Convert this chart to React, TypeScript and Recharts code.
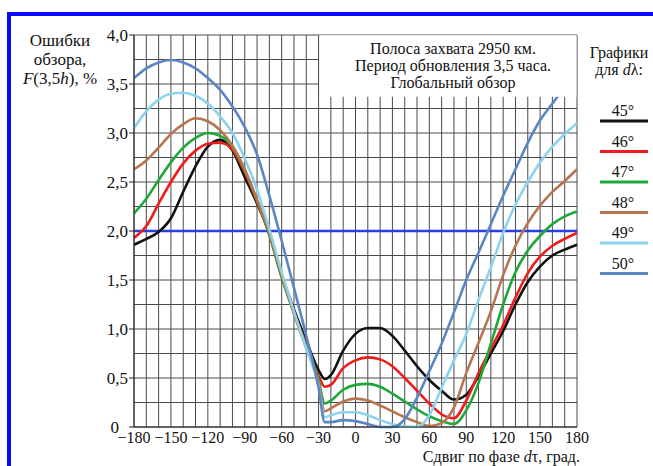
import { LineChart, Line, XAxis, YAxis, ReferenceLine, ReferenceArea } from 'recharts';

// phase shift dτ, degrees
const phaseShift = [
  -180, -170, -160, -150, -140, -130, -120, -110, -100, -90, -80, -70, -60, -50, -40, -30, -25, -20,
  -10, 0, 10, 20, 30, 40, 50, 60, 70, 80, 90, 100, 110, 120, 130, 140, 150, 160, 170, 180,
];

// F(3.5h), % for each dλ
const err45 = [
  1.86, 1.92, 1.99, 2.13, 2.4, 2.66, 2.86, 2.93, 2.82, 2.55, 2.28, 1.98, 1.55, 1.2, 0.88, 0.58, 0.49, 0.53,
  0.78, 0.95, 1.01, 1.01, 0.93, 0.78, 0.62, 0.48, 0.37, 0.28, 0.33, 0.52, 0.75, 0.98, 1.25, 1.48, 1.64, 1.75, 1.81, 1.86,
];
const err46 = [
  1.93, 2.05, 2.28, 2.5, 2.69, 2.82, 2.89, 2.9, 2.83, 2.6, 2.3, 1.96, 1.53, 1.17, 0.84, 0.52, 0.41, 0.43,
  0.6, 0.68, 0.71, 0.69, 0.62, 0.5, 0.37, 0.24, 0.13, 0.09, 0.27, 0.55, 0.8, 1.04, 1.32, 1.57, 1.74, 1.85, 1.92, 1.98,
];
const err47 = [
  2.18, 2.33, 2.52, 2.7, 2.85, 2.95, 3.0, 2.97, 2.86, 2.62, 2.31, 1.96, 1.53, 1.16, 0.82, 0.48, 0.24, 0.27,
  0.38, 0.43, 0.44, 0.41, 0.34, 0.26, 0.18, 0.11, 0.06, 0.03, 0.17, 0.45, 0.85, 1.25, 1.58, 1.8, 1.95, 2.07, 2.15, 2.2,
];
const err48 = [
  2.63, 2.72, 2.85, 2.99, 3.09, 3.15, 3.12, 3.03, 2.87, 2.63, 2.32, 1.98, 1.55, 1.16, 0.8, 0.45, 0.16, 0.19,
  0.26, 0.29, 0.27, 0.22, 0.16, 0.1, 0.05, 0.01, 0.04, 0.2, 0.55, 0.86, 1.18, 1.55, 1.85, 2.08, 2.26, 2.4, 2.51, 2.63,
];
const err49 = [
  3.05, 3.22, 3.34, 3.4, 3.41, 3.38, 3.3, 3.17, 3.0, 2.74, 2.42, 2.02, 1.58, 1.18, 0.8, 0.42, 0.1, 0.12,
  0.15, 0.15, 0.12, 0.07, 0.03, 0.005, 0, 0.12, 0.4, 0.68, 0.95, 1.3, 1.63, 1.98, 2.27, 2.5, 2.7, 2.86, 2.99, 3.1,
];
const err50 = [
  3.56, 3.66, 3.72, 3.745, 3.72, 3.66, 3.56, 3.44, 3.27, 3.06, 2.78, 2.36, 1.9, 1.42, 0.93, 0.4, 0.05, 0.05,
  0.07, 0.06, 0.03, 0, 0, 0.08, 0.3, 0.57, 0.85, 1.17, 1.5, 1.78, 2.07, 2.36, 2.63, 2.9, 3.13, 3.3, 3.47, 3.6,
];

const xTicks = [-180, -150, -120, -90, -60, -30, 0, 30, 60, 90, 120, 150, 180];
const yTicks = [0, 0.5, 1, 1.5, 2, 2.5, 3, 3.5, 4];
const gridX = [
  -180, -170, -160, -150, -140, -130, -120, -110, -100, -90, -80, -70, -60, -50, -40, -30, -20, -10, 0,
  10, 20, 30, 40, 50, 60, 70, 80, 90, 100, 110, 120, 130, 140, 150, 160, 170, 180,
];
const gridY = [0, 0.25, 0.5, 0.75, 1, 1.25, 1.5, 1.75, 2, 2.25, 2.5, 2.75, 3, 3.25, 3.5, 3.75, 4];

const series = [
  { key: 'd45', label: '45°', color: '#111111', values: err45 },
  { key: 'd46', label: '46°', color: '#ee1c1c', values: err46 },
  { key: 'd47', label: '47°', color: '#1fa83a', values: err47 },
  { key: 'd48', label: '48°', color: '#b5764f', values: err48 },
  { key: 'd49', label: '49°', color: '#8dd3ee', values: err49 },
  { key: 'd50', label: '50°', color: '#5a86c4', values: err50 },
];

const data = phaseShift.map((x, i) => {
  const row: Record<string, number> = { x };
  series.forEach((s) => {
    row[s.key] = s.values[i];
  });
  return row;
});

const serif = "'Liberation Serif', 'Times New Roman', 'DejaVu Serif', serif";
const gridColor = '#4a4a4a';
const fmtX = (v: number) => (v < 0 ? `\u2212${Math.abs(v)}` : `${v}`);
const fmtY = (v: number) => (v === 0 ? '0' : v.toFixed(1).replace('.', ','));

// y tick: the zero label sits a little further left, clear of the −180 label
const YTick = (props: any) => {
  const { x, y, payload } = props;
  return (
    <text
      x={x}
      y={y}
      dx={payload.value === 0 ? -9 : 0}
      dy="0.355em"
      textAnchor="end"
      fill="#111"
      fontSize={17}
      style={{ fontFamily: serif }}
    >
      {fmtY(payload.value)}
    </text>
  );
};

export default function App() {
  return (
    <div
      style={{
        position: 'absolute',
        left: 0,
        top: 0,
        width: 653,
        height: 466,
        background: '#fff',
        fontFamily: serif,
      }}
    >
      <LineChart
        width={653}
        height={466}
        data={data}
        margin={{ top: 35, right: 76, bottom: 0, left: 0 }}
        style={{ fontFamily: serif }}
      >
        <XAxis
          dataKey="x"
          type="number"
          domain={[-180, 180]}
          ticks={xTicks}
          tickFormatter={fmtX}
          height={39}
          tickLine={false}
          tickSize={5}
          tickMargin={0}
          axisLine={{ stroke: '#222' }}
          tick={{ fill: '#111', fontSize: 16, style: { fontFamily: serif } }}
          interval={0}
        />
        <YAxis
          type="number"
          domain={[0, 4]}
          ticks={yTicks}
          width={134}
          tickSize={5}
          tickMargin={1}
          tickLine={{ stroke: '#222' }}
          axisLine={{ stroke: '#222' }}
          tick={<YTick />}
          interval={0}
        />
        {gridX.map((v) => (
          <ReferenceLine key={`gx${v}`} x={v} stroke={gridColor} strokeWidth={1} zIndex={-10} />
        ))}
        {gridY.map((v) => (
          <ReferenceLine key={`gy${v}`} y={v} stroke={gridColor} strokeWidth={1} zIndex={-10} />
        ))}
        <ReferenceLine y={2} stroke="#2a3fe0" strokeWidth={2.5} zIndex={-5} />
        {series.map((s) => (
          <Line
            key={s.key}
            dataKey={s.key}
            type="monotone"
            stroke={s.color}
            strokeWidth={2.6}
            dot={false}
            isAnimationActive={false}
          />
        ))}
        <ReferenceArea x1={-30} x2={180} y1={3.37} y2={4} fill="#ffffff" fillOpacity={1} stroke="none" zIndex={1000} />
        <ReferenceLine
          segment={[{ x: -30, y: 3.37 }, { x: -30, y: 4 }]}
          stroke={gridColor}
          strokeWidth={1}
          zIndex={1001}
        />
        <ReferenceLine
          segment={[{ x: 180, y: 3.37 }, { x: 180, y: 4 }]}
          stroke="#9a9a9a"
          strokeWidth={1}
          zIndex={1001}
        />
        <ReferenceLine
          segment={[{ x: -30, y: 4 }, { x: 180, y: 4 }]}
          stroke="#b0b0b0"
          strokeWidth={1}
          strokeDasharray="2 2"
          zIndex={1001}
        />
      </LineChart>

      <svg
        width={653}
        height={466}
        style={{ position: 'absolute', left: 0, top: 0, pointerEvents: 'none', fontFamily: serif }}
        fill="#111"
      >
        {/* page frame */}
        <rect x={7} y={12} width={4} height={454} fill="#0a0aff" />
        <rect x={7} y={12} width={646} height={4} fill="#0a0aff" />

        {/* y axis title */}
        <text x={60} y={46} fontSize={17} textAnchor="middle">Ошибки</text>
        <text x={60} y={65} fontSize={17} textAnchor="middle">обзора,</text>
        <text x={60} y={84} fontSize={17} textAnchor="middle">
          <tspan fontStyle="italic">F</tspan>(3,5<tspan fontStyle="italic">h</tspan>), %
        </text>

        {/* caption box */}
        <text x={453} y={54} fontSize={16} textAnchor="middle">Полоса захвата 2950 км.</text>
        <text x={453} y={71} fontSize={16} textAnchor="middle">Период обновления 3,5 часа.</text>
        <text x={453} y={88} fontSize={16} textAnchor="middle">Глобальный обзор</text>

        {/* legend */}
        <text x={619} y={58} fontSize={16} textAnchor="middle">Графики</text>
        <text x={619} y={75} fontSize={16} textAnchor="middle">
          для <tspan fontStyle="italic">d</tspan>λ:
        </text>
        {series.map((s, i) => (
          <g key={s.key}>
            <text x={623} y={116 + i * 30.5} fontSize={16} textAnchor="middle">{s.label}</text>
            <line x1={600} x2={648} y1={121 + i * 30.5} y2={121 + i * 30.5} stroke={s.color} strokeWidth={3} />
          </g>
        ))}

        {/* x axis title */}
        <text x={580} y={462} fontSize={16} textAnchor="end">
          Сдвиг по фазе <tspan fontStyle="italic">d</tspan>τ, град.
        </text>
      </svg>
    </div>
  );
}
